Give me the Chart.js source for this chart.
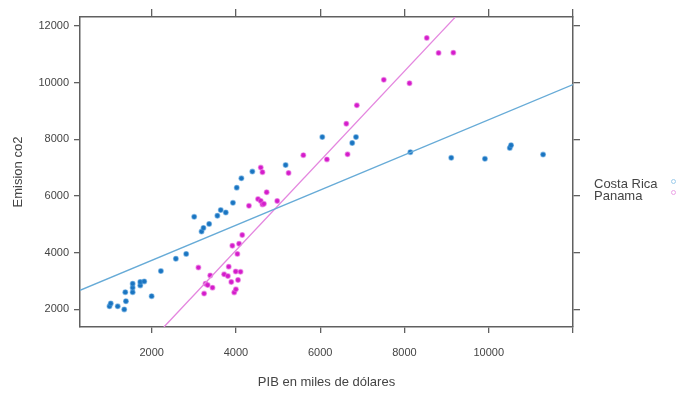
<!DOCTYPE html>
<html><head><meta charset="utf-8">
<script src="https://cdn.jsdelivr.net/npm/chart.js@4"></script>
<style>
html,body{margin:0;padding:0;background:#fff;}
#wrap{position:relative;width:677px;height:394px;overflow:hidden;}
canvas{display:block;}
.lg{position:absolute;left:594px;font:13px "Liberation Sans",Arial,sans-serif;color:#444;white-space:nowrap;line-height:13px;}
.dot{position:absolute;left:671px;width:5px;height:5px;border-radius:50%;box-sizing:border-box;border:1.5px solid;}
</style></head>
<body>
<div id="wrap">
<canvas id="c" width="677" height="394"></canvas>
<div class="lg" style="top:177px">Costa Rica</div>
<div class="lg" style="top:189px">Panama</div>
<div class="dot" style="top:179px;border-color:#9ccbea"></div>
<div class="dot" style="top:190px;border-color:#eba3e6"></div>
</div>
<script>
const crX = [1000,1030,1195,1350,1390,1375,1550,1550,1550,1730,1730,1825,2000,2220,2575,2820,3010,3185,3230,3365,3560,3640,3760,3930,4020,4130,4390,5180,6050,6760,6850,8140,9110,9910,10500,10530,11290];
const crY = [2100,2200,2100,1990,2280,2600,2600,2760,2900,2840,2960,2980,2460,3345,3780,3950,5260,4740,4870,5010,5300,5500,5415,5755,6290,6620,6860,7090,8080,7870,8080,7545,7345,7310,7695,7790,7460];
const paX = [3110,3245,3280,3330,3390,3445,3720,3810,3830,3890,3960,4000,3995,4050,4110,4035,3915,4075,4150,4310,4525,4590,4630,4665,4730,4980,4590,4630,5250,5600,6160,6620,6650,6870,7510,8120,8530,8810,9160];
const paY = [3470,2550,2900,2850,3190,2760,3230,3170,3500,2960,2590,2700,3330,3030,3320,3950,4240,4310,4620,5650,5890,5825,5700,5720,6130,5820,7000,6840,6810,7440,7290,8550,7470,9200,10100,9980,11580,11050,11060];
const crLineX = [300, 12000];
const crLineY = [2667, 9930];
const paLineX = [2291, 9207];
const paLineY = [1368, 12316];
const xTickVals = [2000,4000,6000,8000,10000,12000];
const xTickLabels = ["2000","4000","6000","8000","10000",""];
const yTickVals = [2000,4000,6000,8000,10000,12000];
const yTickLabels = ["2000","4000","6000","8000","10000","12000"];
const xRange = [300, 12000];
const yRange = [1370, 12320];

const pts = (xs, ys) => xs.map((x, i) => ({x: x, y: ys[i]}));
const FONT = "'Liberation Sans', Arial, sans-serif";
const AX = '#606060';

function setTicks(vals){ return s => { s.ticks = vals.map(v => ({value: v})); }; }
function fixSize(prop, v){ return s => { s[prop] = v; s.paddingLeft = 0; s.paddingRight = 0; s.paddingTop = 0; s.paddingBottom = 0; }; }

new Chart(document.getElementById('c'), {
  type: 'scatter',
  data: {
    datasets: [
      {label: 'Costa Rica', data: pts(crX, crY), pointRadius: 2.4, backgroundColor: '#1a74c0', borderColor: 'rgba(70,150,215,0.55)', borderWidth: 1.2, order: 2},
      {label: 'Costa Rica fit', data: pts(crLineX, crLineY), showLine: true, pointRadius: 0, borderColor: '#67abd7', borderWidth: 1.3, order: 1},
      {label: 'Panama', data: pts(paX, paY), pointRadius: 2.4, backgroundColor: '#d41ccb', borderColor: 'rgba(230,100,220,0.55)', borderWidth: 1.2, order: 2},
      {label: 'Panama fit', data: pts(paLineX, paLineY), showLine: true, pointRadius: 0, borderColor: '#e487df', borderWidth: 1.3, order: 1}
    ]
  },
  options: {
    responsive: false,
    animation: false,
    layout: {padding: 0},
    plugins: {legend: {display: false}, tooltip: {enabled: false}},
    scales: {
      x: {
        type: 'linear', position: 'bottom', min: xRange[0], max: xRange[1],
        afterBuildTicks: setTicks(xTickVals),
        afterFit: fixSize('height', 67),
        ticks: {font: {size: 11, family: FONT}, color: '#444', padding: 13, maxRotation: 0,
          callback: (v) => { const i = xTickVals.indexOf(v); return i >= 0 ? xTickLabels[i] : ''; }},
        grid: {drawOnChartArea: false, drawTicks: true, tickLength: 6, color: AX, lineWidth: 1.3},
        border: {display: true, color: AX, width: 1.5},
        title: {display: true, text: 'PIB en miles de dólares', font: {size: 13, family: FONT}, color: '#444', padding: {top: 0, bottom: 4}}
      },
      x2: {
        type: 'linear', position: 'top', min: xRange[0], max: xRange[1],
        afterBuildTicks: setTicks(xTickVals),
        afterFit: fixSize('height', 17),
        ticks: {display: false},
        grid: {drawOnChartArea: false, drawTicks: true, tickLength: 8, color: AX, lineWidth: 1.3},
        border: {display: true, color: AX, width: 1.5}
      },
      y: {
        type: 'linear', position: 'left', min: yRange[0], max: yRange[1],
        afterBuildTicks: setTicks(yTickVals),
        afterFit: fixSize('width', 80),
        ticks: {font: {size: 11, family: FONT}, color: '#444', padding: 5,
          callback: (v) => { const i = yTickVals.indexOf(v); return i >= 0 ? yTickLabels[i] : ''; }},
        grid: {drawOnChartArea: false, drawTicks: true, tickLength: 6, color: AX, lineWidth: 1.3},
        border: {display: true, color: AX, width: 1.5},
        title: {display: true, text: 'Emision co2', font: {size: 13, family: FONT}, color: '#444', padding: {top: 11, bottom: 0}}
      },
      y2: {
        type: 'linear', position: 'right', min: yRange[0], max: yRange[1],
        afterBuildTicks: setTicks(yTickVals),
        afterFit: fixSize('width', 104),
        ticks: {display: false},
        grid: {drawOnChartArea: false, drawTicks: true, tickLength: 7, color: AX, lineWidth: 1.3},
        border: {display: true, color: AX, width: 1.5}
      }
    }
  }
});
</script>
</body></html>
